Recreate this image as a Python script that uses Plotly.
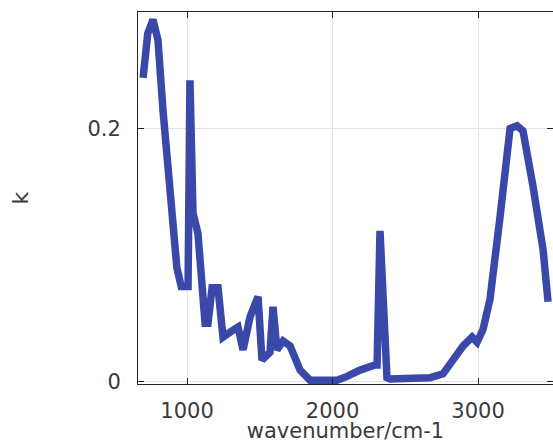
import plotly.graph_objects as go

wavenumber = [698, 730, 766, 800, 835, 880, 930, 960, 1007, 1020, 1041, 1075, 1100, 1124, 1144,
              1172, 1213, 1247, 1296, 1350, 1385, 1433, 1488, 1515, 1570, 1591, 1618, 1660, 1708,
              1777, 1845, 1983, 2031, 2100, 2189, 2292, 2306, 2326, 2374, 2395, 2670, 2759, 2828,
              2897, 2959, 2993, 3034, 3082, 3151, 3220, 3268, 3309, 3378, 3447, 3481]
k = [0.240, 0.275, 0.286, 0.270, 0.214, 0.150, 0.090, 0.075, 0.075, 0.238, 0.133, 0.117, 0.085,
     0.046, 0.046, 0.074, 0.074, 0.035, 0.039, 0.043, 0.025, 0.051, 0.067, 0.017, 0.023, 0.059,
     0.025, 0.032, 0.028, 0.009, 0.001, 0.001, 0.001, 0.004, 0.009, 0.013, 0.013, 0.119, 0.003,
     0.002, 0.003, 0.006, 0.017, 0.028, 0.035, 0.031, 0.041, 0.065, 0.130, 0.200, 0.202, 0.198,
     0.154, 0.104, 0.063]

x_ticks = [1000, 2000, 3000]
y_ticks = [0, 0.2]
y_tick_labels = ["0", "0.2"]

fig = go.Figure()
fig.add_trace(go.Scatter(x=wavenumber, y=k, mode="lines",
                         line=dict(color="rgb(58,72,170)", width=7.5)))

axis_common = dict(showline=True, linecolor="#222", linewidth=1, mirror="allticks",
                   ticks="inside", ticklen=6, tickcolor="#222", showgrid=True,
                   gridcolor="#e2e2e2", gridwidth=1, zeroline=False, automargin=False,
                   tickfont=dict(family="DejaVu Sans", size=21, color="#3a3a3a"))

fig.update_layout(
    width=553, height=443,
    margin=dict(l=138, r=0, t=12, b=59),
    paper_bgcolor="white", plot_bgcolor="white",
    showlegend=False,
    font=dict(family="DejaVu Sans", color="#3a3a3a"),
    xaxis=dict(range=[663, 3515], tickvals=x_ticks, ticklabelstandoff=8,
               title=dict(text="wavenumber/cm-1", font=dict(size=21, color="#3a3a3a"), standoff=4),
               **axis_common),
    yaxis=dict(range=[-0.002, 0.292], tickvals=y_ticks, ticktext=y_tick_labels,
               ticklabelstandoff=12,
               title=dict(text="k", font=dict(size=22, color="#3a3a3a"), standoff=52),
               **axis_common),
)

fig.write_html("out.html", config={"displayModeBar": False},
               post_script="document.body.style.margin='0';document.body.style.overflow='hidden';")
